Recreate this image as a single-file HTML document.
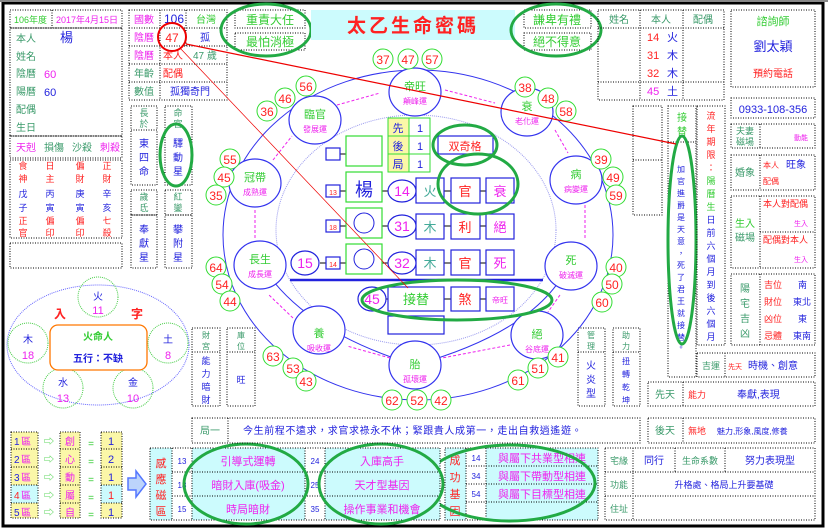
<!DOCTYPE html>
<html><head><meta charset="utf-8"><style>
html,body{margin:0;padding:0;background:#fff;width:828px;height:531px;overflow:hidden}
svg{display:block;font-family:"Liberation Sans","Noto Sans CJK TC","Noto Sans CJK SC",sans-serif}
.d{fill:none;stroke:#000;stroke-width:1;stroke-dasharray:1 1.5}
.g{fill:#3a9a6a}.r{fill:#f22}.b{fill:#22d}.m{fill:#e2e}.gr{fill:#3c3}
.c{text-anchor:middle}
</style></head><body>
<svg width="828" height="531" viewBox="0 0 828 531" font-size="10">
<rect x="0" y="0" width="828" height="531" fill="#fff"/>
<rect x="3" y="3" width="820" height="523" fill="none" stroke="#000" stroke-width="3"/>
<line x1="0" y1="1" x2="828" y2="1" stroke="#888" stroke-width="2"/>

<!-- LEFT TOP PANEL -->
<rect class="d" x="10" y="10" width="112" height="18"/><line class="d" x1="52" y1="10" x2="52" y2="28"/>
<text x="14" y="23" class="gr" font-size="9">106年度</text><text x="56" y="23" class="m" font-size="9">2017年4月15日</text>
<rect class="d" x="10" y="28" width="112" height="108"/>
<text x="16" y="42" class="g">本人</text><text x="60" y="42" class="b" font-size="13">楊</text>
<text x="16" y="60" class="g">姓名</text>
<text x="16" y="77" class="g">陰曆</text><text x="44" y="78" class="m" font-size="11">60</text>
<text x="16" y="95" class="g">陽曆</text><text x="44" y="96" class="b" font-size="11">60</text>
<text x="16" y="113" class="g">配偶</text>
<text x="16" y="131" class="g">生日</text>
<rect class="d" x="10" y="136" width="112" height="22"/>
<text x="16" y="151" class="m">天剋</text><text x="44" y="151" class="g">損傷</text><text x="72" y="151" class="g">沙殺</text><text x="100" y="151" class="m">刺殺</text>
<rect class="d" x="10" y="160" width="112" height="78"/>
<g class="c" font-size="9">
<text x="23" y="169" class="r">食</text><text x="50" y="169" class="r">日</text><text x="80" y="169" class="r">偏</text><text x="107" y="169" class="r">正</text>
<text x="23" y="182" class="r">神</text><text x="50" y="182" class="r">主</text><text x="80" y="182" class="r">財</text><text x="107" y="182" class="r">財</text>
<text x="23" y="197" class="b">戊</text><text x="50" y="197" class="b">丙</text><text x="80" y="197" class="b">庚</text><text x="107" y="197" class="b">辛</text>
<text x="23" y="211" class="b">子</text><text x="50" y="211" class="b">寅</text><text x="80" y="211" class="b">寅</text><text x="107" y="211" class="b">亥</text>
<text x="23" y="224" class="r">正</text><text x="50" y="224" class="r">偏</text><text x="80" y="224" class="r">偏</text><text x="107" y="224" class="r">七</text>
<text x="23" y="236" class="r">官</text><text x="50" y="236" class="r">印</text><text x="80" y="236" class="r">印</text><text x="107" y="236" class="r">殺</text>
</g>
<rect class="d" x="10" y="243" width="112" height="25"/>

<!-- MID-LEFT COLUMN -->
<rect class="d" x="129" y="10" width="98" height="90"/>
<line class="d" x1="160" y1="10" x2="160" y2="100"/><line class="d" x1="186" y1="10" x2="186" y2="46"/>
<line class="d" x1="129" y1="28" x2="227" y2="28"/><line class="d" x1="129" y1="46" x2="227" y2="46"/><line class="d" x1="129" y1="64" x2="227" y2="64"/><line class="d" x1="129" y1="82" x2="227" y2="82"/>
<text x="134" y="23" class="m">國數</text><text x="164" y="23" class="b" font-size="12">106</text><text x="196" y="23" class="gr">台灣</text>
<text x="134" y="41" class="m">陰曆</text><text x="172" y="42" class="r c" font-size="12">47</text><text x="200" y="41" class="b">孤</text>
<text x="134" y="59" class="m">陰曆</text><text x="163" y="59" class="r">本人</text><text x="193" y="59" class="g">47 歲</text>
<text x="134" y="77" class="g">年齡</text><text x="163" y="77" class="r">配偶</text>
<text x="134" y="95" class="g">數值</text><text x="170" y="95" class="b">孤獨奇門</text>
<circle cx="172" cy="37" r="14" fill="none" stroke="#e00" stroke-width="2"/>

<rect class="d" x="131" y="106" width="26" height="24"/><rect class="d" x="131" y="130" width="26" height="55"/>
<text x="144" y="116" class="g c" font-size="9">長</text><text x="144" y="127" class="g c" font-size="9">於</text>
<text x="144" y="147" class="b c">東</text><text x="144" y="161" class="b c">四</text><text x="144" y="175" class="b c">命</text>
<rect class="d" x="165" y="106" width="27" height="79"/>
<text x="178" y="116" class="g c" font-size="9">命</text><text x="178" y="127" class="g c" font-size="9">宮</text>
<text x="178" y="147" class="b c">驛</text><text x="178" y="161" class="b c">動</text><text x="178" y="175" class="b c">星</text>
<ellipse cx="176" cy="155" rx="16" ry="31" fill="none" stroke="#2a4" stroke-width="3"/>
<rect class="d" x="131" y="190" width="26" height="25"/><rect class="d" x="131" y="215" width="26" height="53"/>
<text x="144" y="200" class="g c" font-size="9">歲</text><text x="144" y="211" class="g c" font-size="9">氐</text>
<text x="144" y="233" class="b c">奉</text><text x="144" y="247" class="b c">獻</text><text x="144" y="261" class="b c">星</text>
<rect class="d" x="165" y="190" width="27" height="25"/><rect class="d" x="165" y="215" width="27" height="53"/>
<text x="178" y="200" class="g c" font-size="9">紅</text><text x="178" y="211" class="g c" font-size="9">鑾</text>
<text x="178" y="233" class="b c">攀</text><text x="178" y="247" class="b c">附</text><text x="178" y="261" class="b c">星</text>

<!-- TOP MIDDLE -->
<rect class="d" x="235" y="10" width="70" height="18"/><rect class="d" x="235" y="33" width="70" height="17"/>
<text x="270" y="24" class="gr c" font-size="12">重責大任</text><text x="270" y="46" class="gr c" font-size="12">最怕消極</text>
<ellipse cx="266" cy="30" rx="45" ry="26" fill="none" stroke="#2a4" stroke-width="3"/>
<rect x="311" y="10" width="204" height="30" fill="#ccfbfd"/>
<text x="413" y="32" class="r c" font-size="19" font-weight="bold" letter-spacing="3">太乙生命密碼</text>
<rect class="d" x="524" y="10" width="67" height="18"/><rect class="d" x="524" y="33" width="67" height="17"/>
<text x="557" y="24" class="gr c" font-size="12">謙卑有禮</text><text x="557" y="46" class="gr c" font-size="12">絕不得意</text>
<ellipse cx="556" cy="30" rx="45" ry="26" fill="none" stroke="#2a4" stroke-width="3"/>

<!-- RIGHT TABLE -->
<rect class="d" x="598" y="10" width="126" height="90"/>
<line class="d" x1="640" y1="10" x2="640" y2="100"/><line class="d" x1="683" y1="10" x2="683" y2="100"/>
<line class="d" x1="598" y1="28" x2="724" y2="28"/><line class="d" x1="598" y1="82" x2="724" y2="82"/>
<text x="619" y="23" class="g c">姓名</text><text x="661" y="23" class="g c">本人</text><text x="703" y="23" class="g c">配偶</text>
<g font-size="11"><text x="647" y="41" class="r">14</text><text x="667" y="41" class="b">火</text>
<text x="647" y="59" class="r">31</text><text x="667" y="59" class="b">木</text>
<text x="647" y="77" class="r">32</text><text x="667" y="77" class="b">木</text>
<text x="647" y="95" class="m">45</text><text x="667" y="95" class="b">土</text></g>
<rect class="d" x="731" y="10" width="84" height="77"/>
<text x="773" y="25" class="gr c" font-size="11">諮詢師</text><text x="773" y="51" class="b c" font-size="13">劉太穎</text><text x="773" y="77" class="r c">預約電話</text>
<rect class="d" x="731" y="98" width="84" height="20"/>
<text x="773" y="113" class="b c" font-size="11">0933-108-356</text>

<rect class="d" x="633" y="106" width="29" height="109"/><line class="d" x1="633" y1="160" x2="662" y2="160"/>
<rect class="d" x="668" y="106" width="28" height="271"/><line class="d" x1="668" y1="142" x2="696" y2="142"/>
<text x="682" y="121" class="gr c">接</text><text x="682" y="135" class="gr c">替</text>
<g class="b c" font-size="8"><text x="681" y="172">加</text><text x="681" y="184">官</text><text x="681" y="196">進</text><text x="681" y="208">爵</text><text x="681" y="220">是</text><text x="681" y="232">天</text><text x="681" y="244">意</text><text x="681" y="256">，</text><text x="681" y="268">死</text><text x="681" y="280">了</text><text x="681" y="292">君</text><text x="681" y="304">王</text><text x="681" y="316">就</text><text x="681" y="328">接</text><text x="681" y="340">替</text><text x="681" y="350">。</text></g>
<ellipse cx="682" cy="240" rx="14" ry="104" fill="none" stroke="#2a4" stroke-width="3"/>
<rect class="d" x="697" y="106" width="28" height="239"/>
<g class="c" font-size="9"><text x="711" y="119" class="r">流</text><text x="711" y="132" class="r">年</text><text x="711" y="145" class="r">期</text><text x="711" y="158" class="r">限</text><text x="711" y="171" class="r">：</text><text x="711" y="184" class="gr">陽</text><text x="711" y="197" class="gr">曆</text><text x="711" y="210" class="gr">生</text><text x="711" y="223" class="b">日</text><text x="711" y="236" class="b">前</text><text x="711" y="249" class="b">六</text><text x="711" y="262" class="b">個</text><text x="711" y="275" class="b">月</text><text x="711" y="288" class="b">到</text><text x="711" y="301" class="b">後</text><text x="711" y="314" class="b">六</text><text x="711" y="327" class="b">個</text><text x="711" y="340" class="b">月</text></g>
<rect class="d" x="731" y="124" width="84" height="24"/><line class="d" x1="760" y1="124" x2="760" y2="148"/>
<text x="745" y="134" class="g c" font-size="9">夫妻</text><text x="745" y="145" class="g c" font-size="9">磁場</text><text x="808" y="140" class="m" font-size="7" text-anchor="end">動能</text>
<rect class="d" x="731" y="155" width="84" height="35"/><line class="d" x1="760" y1="155" x2="760" y2="190"/>
<text x="745" y="176" class="g c">婚象</text><text x="763" y="168" class="r" font-size="8">本人</text><text x="786" y="168" class="b">旺象</text><text x="763" y="184" class="r" font-size="8">配偶</text>
<rect class="d" x="731" y="196" width="84" height="72"/><line class="d" x1="760" y1="196" x2="760" y2="268"/><line class="d" x1="760" y1="232" x2="815" y2="232"/>
<text x="745" y="227" class="gr c">生入</text><text x="745" y="241" class="g c">磁場</text>
<text x="763" y="207" class="r" font-size="9">本人對配偶</text><text x="808" y="226" class="m" font-size="7" text-anchor="end">生入</text>
<text x="763" y="243" class="r" font-size="9">配偶對本人</text><text x="808" y="262" class="m" font-size="7" text-anchor="end">生入</text>
<rect class="d" x="731" y="274" width="84" height="71"/><line class="d" x1="760" y1="274" x2="760" y2="345"/>
<g class="g c" font-size="10"><text x="745" y="292">陽</text><text x="745" y="307">宅</text><text x="745" y="322">吉</text><text x="745" y="337">凶</text></g>
<g font-size="9"><text x="764" y="288" class="r">吉位</text><text x="798" y="288" class="b">南</text>
<text x="764" y="305" class="r">財位</text><text x="793" y="305" class="b">東北</text>
<text x="764" y="322" class="r">凶位</text><text x="798" y="322" class="b">東</text>
<text x="764" y="339" class="r">忌體</text><text x="793" y="339" class="b">東南</text></g>
<rect class="d" x="697" y="353" width="118" height="24"/><line class="d" x1="725" y1="353" x2="725" y2="377"/>
<text x="711" y="369" class="g c" font-size="9">吉運</text><text x="728" y="369" class="r" font-size="7">先天</text><text x="748" y="369" class="b" font-size="10">時機、創意</text>
<rect class="d" x="648" y="382" width="167" height="24"/><line class="d" x1="683" y1="382" x2="683" y2="406"/>
<text x="665" y="398" class="g c">先天</text><text x="688" y="398" class="r" font-size="9">能力</text><text x="737" y="398" class="b">奉獻,表現</text>
<rect class="d" x="648" y="418" width="167" height="25"/><line class="d" x1="683" y1="418" x2="683" y2="443"/>
<text x="665" y="434" class="g c">後天</text><text x="688" y="434" class="r" font-size="9">無地</text><text x="717" y="434" class="b" font-size="8">魅力,形象,風度,修養</text>

<!-- BOTTOM RIGHT -->
<rect class="d" x="605" y="448" width="210" height="72"/>
<line class="d" x1="605" y1="472" x2="815" y2="472"/><line class="d" x1="605" y1="496" x2="815" y2="496"/>
<line class="d" x1="633" y1="448" x2="633" y2="520"/><line class="d" x1="675" y1="448" x2="675" y2="472"/><line class="d" x1="725" y1="448" x2="725" y2="472"/>
<text x="619" y="464" class="g c" font-size="9">宅緣</text><text x="654" y="464" class="b c">同行</text><text x="700" y="464" class="g c" font-size="9">生命系數</text><text x="770" y="464" class="b c">努力表現型</text>
<text x="619" y="488" class="g c" font-size="9">功能</text><text x="724" y="488" class="b c" font-size="9">升格處、格局上升要基礎</text>
<text x="619" y="512" class="g c" font-size="9">住址</text>

<!-- 成功基因 -->
<rect x="445" y="448" width="21" height="72" fill="#ccfbfd"/><rect x="486" y="448" width="112" height="72" fill="#ccfbfd"/>
<rect class="d" x="445" y="448" width="153" height="72"/>
<line class="d" x1="466" y1="448" x2="466" y2="520"/><line class="d" x1="486" y1="448" x2="486" y2="520"/>
<line class="d" x1="466" y1="466" x2="598" y2="466"/><line class="d" x1="466" y1="484" x2="598" y2="484"/><line class="d" x1="466" y1="502" x2="598" y2="502"/>
<g class="r c" font-size="11"><text x="455" y="464">成</text><text x="455" y="481">功</text><text x="455" y="498">基</text><text x="455" y="515">因</text></g>
<g class="b c" font-size="8"><text x="476" y="461">14</text><text x="476" y="479">34</text><text x="476" y="497">54</text></g>
<g class="m c" font-size="11"><text x="542" y="462">與屬下共業型相連</text><text x="542" y="480">與屬下帶動型相連</text><text x="542" y="498">與屬下目標型相連</text></g>
<ellipse cx="510" cy="483" rx="85" ry="38" fill="none" stroke="#2a4" stroke-width="3"/>

<!-- 感應磁區 -->
<rect x="150" y="448" width="22" height="72" fill="#ccfbfd"/><rect x="192" y="448" width="113" height="72" fill="#ccfbfd"/><rect x="325" y="448" width="115" height="72" fill="#ccfbfd"/>
<rect class="d" x="150" y="448" width="290" height="72"/>
<line class="d" x1="172" y1="448" x2="172" y2="520"/><line class="d" x1="192" y1="448" x2="192" y2="520"/><line class="d" x1="305" y1="448" x2="305" y2="520"/><line class="d" x1="325" y1="448" x2="325" y2="520"/>
<line class="d" x1="172" y1="472" x2="440" y2="472"/><line class="d" x1="172" y1="496" x2="440" y2="496"/>
<g class="r c" font-size="11"><text x="161" y="467">感</text><text x="161" y="483">應</text><text x="161" y="499">磁</text><text x="161" y="515">區</text></g>
<g class="b c" font-size="8"><text x="182" y="464">13</text><text x="182" y="488">18</text><text x="182" y="512">15</text><text x="315" y="464">24</text><text x="315" y="488">25</text><text x="315" y="512">35</text></g>
<g class="m c" font-size="11"><text x="248" y="465">引導式運轉</text><text x="248" y="489">暗財入庫(吸金)</text><text x="248" y="513">時局暗財</text>
<text x="382" y="465">入庫高手</text><text x="382" y="489">天才型基因</text><text x="382" y="513">操作事業和機會</text></g>
<ellipse cx="246" cy="484" rx="62" ry="40" fill="none" stroke="#2a4" stroke-width="3"/>
<ellipse cx="381" cy="484" rx="62" ry="40" fill="none" stroke="#2a4" stroke-width="3"/>
<path d="M128 478h8v-7l10 13-10 13v-7h-8z" fill="#bcd4fb" stroke="#57f" stroke-width="1.5"/>

<!-- 1區 table -->
<g>
<rect x="11" y="432" width="27" height="86" fill="#fbf7a8"/><rect x="60" y="432" width="20" height="86" fill="#fbf7a8"/><rect x="101" y="432" width="21" height="86" fill="#fbf7a8"/>
<rect x="11" y="485" width="27" height="18" fill="#ccfbfd"/><rect x="101" y="485" width="21" height="18" fill="#ccfbfd"/>
<rect class="d" x="11" y="432" width="27" height="86"/><rect class="d" x="60" y="432" width="20" height="86"/><rect class="d" x="101" y="432" width="21" height="86"/>
<line class="d" x1="11" y1="449" x2="38" y2="449"/><line class="d" x1="11" y1="467" x2="38" y2="467"/><line class="d" x1="11" y1="485" x2="38" y2="485"/><line class="d" x1="11" y1="503" x2="38" y2="503"/>
<line class="d" x1="60" y1="449" x2="80" y2="449"/><line class="d" x1="60" y1="467" x2="80" y2="467"/><line class="d" x1="60" y1="485" x2="80" y2="485"/><line class="d" x1="60" y1="503" x2="80" y2="503"/>
<line class="d" x1="101" y1="449" x2="122" y2="449"/><line class="d" x1="101" y1="467" x2="122" y2="467"/><line class="d" x1="101" y1="485" x2="122" y2="485"/><line class="d" x1="101" y1="503" x2="122" y2="503"/>
<g font-size="10"><text x="14" y="445" class="b">1</text><text x="21" y="445" class="m">區</text><text x="14" y="463" class="b">2</text><text x="21" y="463" class="m">區</text><text x="14" y="481" class="b">3</text><text x="21" y="481" class="m">區</text><text x="14" y="499" class="r">4</text><text x="21" y="499" class="m">區</text><text x="14" y="516" class="b">5</text><text x="21" y="516" class="m">區</text></g>
<g class="gr c" font-size="10"><text x="49" y="445">⇨</text><text x="49" y="463">⇨</text><text x="49" y="481">⇨</text><text x="49" y="499">⇨</text><text x="49" y="516">⇨</text>
<text x="91" y="447">=</text><text x="91" y="465">=</text><text x="91" y="483">=</text><text x="91" y="501">=</text><text x="91" y="518">=</text></g>
<g class="m c" font-size="10"><text x="70" y="445">創</text><text x="70" y="463">心</text><text x="70" y="481">動</text><text x="70" y="499">屬</text><text x="70" y="516">自</text></g>
<g class="c" font-size="11"><text x="111" y="445" class="b">1</text><text x="111" y="463" class="b">2</text><text x="111" y="481" class="b">1</text><text x="111" y="499" class="r">1</text><text x="111" y="516" class="b">1</text></g>
</g>

<!-- 八字 -->
<ellipse cx="98" cy="345" rx="91" ry="60" fill="none" stroke="#66f" stroke-dasharray="1 1"/>
<text x="60" y="318" class="r c" font-size="12" font-weight="bold">入</text><text x="137" y="318" class="r c" font-size="12" font-weight="bold">字</text>
<g fill="none" stroke="#4c4" stroke-dasharray="1 1"><circle cx="98" cy="297" r="20"/><circle cx="28" cy="343" r="20"/><circle cx="168" cy="343" r="20"/><circle cx="63" cy="388" r="20"/><circle cx="133" cy="388" r="20"/></g>
<g class="c" font-size="10"><text x="98" y="300" class="b">火</text><text x="98" y="314" class="m" font-size="11">11</text>
<text x="28" y="343" class="b">木</text><text x="28" y="359" class="m" font-size="11">18</text>
<text x="168" y="343" class="b">土</text><text x="168" y="359" class="m" font-size="11">8</text>
<text x="63" y="386" class="b">水</text><text x="63" y="402" class="m" font-size="11">13</text>
<text x="133" y="386" class="b">金</text><text x="133" y="402" class="m" font-size="11">10</text></g>
<rect x="50" y="325" width="97" height="45" rx="8" fill="#fff" stroke="#f70" stroke-width="1.3"/>
<text x="98" y="340" class="gr c" font-size="10" font-weight="bold">火命人</text>
<text x="98" y="362" class="b c" font-size="10" font-weight="bold">五行：不缺</text>

<!-- 財宮 etc -->
<rect class="d" x="192" y="328" width="28" height="78"/><line class="d" x1="192" y1="352" x2="220" y2="352"/>
<text x="206" y="338" class="g c" font-size="8">財</text><text x="206" y="349" class="g c" font-size="8">宮</text>
<g class="b c" font-size="9"><text x="206" y="364">能</text><text x="206" y="377">力</text><text x="206" y="390">暗</text><text x="206" y="403">財</text></g>
<rect class="d" x="227" y="328" width="28" height="78"/><line class="d" x1="227" y1="352" x2="255" y2="352"/>
<text x="241" y="338" class="g c" font-size="8">庫</text><text x="241" y="349" class="g c" font-size="8">位</text><text x="241" y="383" class="b c" font-size="9">旺</text>
<rect class="d" x="578" y="328" width="27" height="78"/><line class="d" x1="578" y1="352" x2="605" y2="352"/>
<text x="591" y="338" class="g c" font-size="8">管</text><text x="591" y="349" class="g c" font-size="8">理</text>
<g class="b c" font-size="10"><text x="591" y="369">火</text><text x="591" y="383">炎</text><text x="591" y="397">型</text></g>
<rect class="d" x="613" y="328" width="27" height="78"/><line class="d" x1="613" y1="352" x2="640" y2="352"/>
<text x="626" y="338" class="g c" font-size="8">助</text><text x="626" y="349" class="g c" font-size="8">力</text>
<g class="b c" font-size="8"><text x="626" y="364">扭</text><text x="626" y="377">轉</text><text x="626" y="390">乾</text><text x="626" y="403">坤</text></g>
<rect class="d" x="192" y="418" width="448" height="25"/><line class="d" x1="228" y1="418" x2="228" y2="443"/>
<text x="210" y="434" class="g c" font-size="10">局一</text>
<text x="243" y="434" class="b" font-size="10" letter-spacing="0.6">今生前程不遠求，求官求祿永不休；緊跟貴人成第一，走出自救逍遙遊。</text>

<!-- CENTER DIAGRAM -->
<ellipse cx="418" cy="235" rx="195" ry="165" fill="none" stroke="#33e" stroke-width="1"/>
<ellipse cx="416" cy="230" rx="140" ry="115" fill="none" stroke="#99e" stroke-dasharray="1 1"/>
<path d="M260 262 Q300 330 415 365" fill="none" stroke="#33e"/>
<path d="M570 262 Q540 330 415 365" fill="none" stroke="#33e"/>
<g fill="#fff" stroke="#33e" stroke-width="1.2">
<ellipse cx="415" cy="92" rx="26" ry="24"/><ellipse cx="315" cy="120" rx="26" ry="24"/><ellipse cx="527" cy="112" rx="26" ry="24"/>
<ellipse cx="255" cy="183" rx="26" ry="24"/><ellipse cx="576" cy="180" rx="26" ry="24"/>
<ellipse cx="260" cy="265" rx="26" ry="24"/><ellipse cx="571" cy="266" rx="26" ry="24"/>
<ellipse cx="319" cy="330" rx="26" ry="24"/><ellipse cx="537" cy="335" rx="26" ry="24"/><ellipse cx="415" cy="365" rx="26" ry="24"/>
</g>
<g class="c" font-size="11">
<text x="415" y="90" class="gr">帝旺</text><text x="415" y="104" class="m" font-size="8">顛峰運</text>
<text x="315" y="118" class="gr">臨官</text><text x="315" y="132" class="m" font-size="8">發展運</text>
<text x="527" y="110" class="gr">衰</text><text x="527" y="124" class="m" font-size="8">老化運</text>
<text x="255" y="181" class="gr">冠帶</text><text x="255" y="195" class="m" font-size="8">成熟運</text>
<text x="576" y="178" class="gr">病</text><text x="576" y="192" class="m" font-size="8">病變運</text>
<text x="260" y="263" class="gr">長生</text><text x="260" y="277" class="m" font-size="8">成長運</text>
<text x="571" y="264" class="gr">死</text><text x="571" y="278" class="m" font-size="8">破滅運</text>
<text x="319" y="337" class="gr">養</text><text x="319" y="351" class="m" font-size="8">吸收運</text>
<text x="537" y="338" class="gr">絕</text><text x="537" y="352" class="m" font-size="8">谷底運</text>
<text x="415" y="368" class="gr">胎</text><text x="415" y="382" class="m" font-size="8">孤壞運</text>
</g>
<g fill="none" stroke="#e2e" stroke-dasharray="3 2">
<path d="M337 105 L380 93"/><path d="M445 90 L495 103"/><path d="M273 160 L292 136"/><path d="M555 130 L568 153"/>
<path d="M255 238 L255 210"/><path d="M585 205 L585 238"/><path d="M293 318 L269 295"/><path d="M560 295 L548 312"/>
<path d="M390 358 L347 346"/><path d="M510 345 L442 358"/>
</g>
<!-- green number circles -->
<g fill="#fff" stroke="#3d3">
<circle cx="383" cy="59" r="10"/><circle cx="408" cy="59" r="10"/><circle cx="432" cy="59" r="10"/>
<circle cx="267" cy="111" r="10"/><circle cx="285" cy="98" r="10"/><circle cx="306" cy="86" r="10"/>
<circle cx="525" cy="87" r="10"/><circle cx="548" cy="98" r="10"/><circle cx="566" cy="111" r="10"/>
<circle cx="230" cy="159" r="10"/><circle cx="224" cy="177" r="10"/><circle cx="216" cy="195" r="10"/>
<circle cx="601" cy="159" r="10"/><circle cx="613" cy="177" r="10"/><circle cx="616" cy="195" r="10"/>
<circle cx="216" cy="267" r="10"/><circle cx="222" cy="284" r="10"/><circle cx="230" cy="301" r="10"/>
<circle cx="616" cy="267" r="10"/><circle cx="612" cy="284" r="10"/><circle cx="602" cy="302" r="10"/>
<circle cx="273" cy="356" r="10"/><circle cx="293" cy="368" r="10"/><circle cx="306" cy="381" r="10"/>
<circle cx="558" cy="357" r="10"/><circle cx="538" cy="368" r="10"/><circle cx="518" cy="380" r="10"/>
<circle cx="392" cy="400" r="10"/><circle cx="417" cy="400" r="10"/><circle cx="441" cy="400" r="10"/>
</g>
<g class="r c" font-size="12">
<text x="383" y="64">37</text><text x="408" y="64">47</text><text x="432" y="64">57</text>
<text x="267" y="116">36</text><text x="285" y="103">46</text><text x="306" y="91">56</text>
<text x="525" y="92">38</text><text x="548" y="103">48</text><text x="566" y="116">58</text>
<text x="230" y="164">55</text><text x="224" y="182">45</text><text x="216" y="200">35</text>
<text x="601" y="164">39</text><text x="613" y="182">49</text><text x="616" y="200">59</text>
<text x="216" y="272">64</text><text x="222" y="289">54</text><text x="230" y="306">44</text>
<text x="616" y="272">40</text><text x="612" y="289">50</text><text x="602" y="307">60</text>
<text x="273" y="361">63</text><text x="293" y="373">53</text><text x="306" y="386">43</text>
<text x="558" y="362">41</text><text x="538" y="373">51</text><text x="518" y="385">61</text>
<text x="392" y="405">62</text><text x="417" y="405">52</text><text x="441" y="405">42</text>
</g>

<!-- center grid -->
<rect x="388" y="118" width="21" height="54" fill="#fbf7a8"/>
<rect x="388" y="118" width="42" height="54" fill="none" stroke="#3d3"/>
<line x1="409" y1="118" x2="409" y2="172" stroke="#3d3"/><line x1="388" y1="136" x2="430" y2="136" stroke="#3d3"/><line x1="388" y1="154" x2="430" y2="154" stroke="#3d3"/>
<g class="c" font-size="11"><text x="398" y="132" class="b">先</text><text x="398" y="150" class="b">後</text><text x="398" y="168" class="b">局</text>
<text x="420" y="132" class="b">1</text><text x="420" y="150" class="b">1</text><text x="420" y="168" class="b">1</text></g>
<rect x="438" y="136" width="55" height="18" fill="#fff" stroke="#22d" stroke-width="1.2"/>
<text x="465" y="150" class="r c" font-size="11">双奇格</text>
<ellipse cx="465" cy="145" rx="32" ry="20" fill="none" stroke="#2a4" stroke-width="3"/>

<g stroke="#000"><line x1="340" y1="154" x2="346" y2="154"/><line x1="340" y1="191" x2="346" y2="191"/><line x1="382" y1="191" x2="390" y2="191"/><line x1="414" y1="191" x2="416" y2="191"/>
<line x1="444" y1="191" x2="451" y2="191"/><line x1="480" y1="191" x2="486" y2="191"/>
<line x1="340" y1="226" x2="346" y2="226"/><line x1="382" y1="226" x2="390" y2="226"/><line x1="444" y1="226" x2="451" y2="226"/><line x1="480" y1="226" x2="486" y2="226"/>
<line x1="320" y1="263" x2="326" y2="263"/><line x1="340" y1="263" x2="346" y2="263"/><line x1="382" y1="263" x2="390" y2="263"/><line x1="444" y1="263" x2="451" y2="263"/><line x1="480" y1="263" x2="486" y2="263"/>
<line x1="385" y1="299" x2="388" y2="299"/><line x1="444" y1="299" x2="451" y2="299"/><line x1="480" y1="299" x2="486" y2="299"/></g>
<g fill="#fff" stroke="#22d" stroke-width="1.2">
<rect x="326" y="148" width="14" height="12"/><rect x="326" y="185" width="14" height="12"/><rect x="326" y="220" width="14" height="12"/><rect x="326" y="257" width="14" height="12"/>
<rect x="416" y="178" width="28" height="25"/><rect x="451" y="178" width="29" height="25"/><rect x="486" y="178" width="28" height="25"/>
<rect x="416" y="214" width="28" height="25"/><rect x="451" y="214" width="29" height="25"/><rect x="486" y="214" width="28" height="25"/>
<rect x="416" y="250" width="28" height="25"/><rect x="451" y="250" width="29" height="25"/><rect x="486" y="250" width="28" height="25"/>
<rect x="388" y="287" width="56" height="24"/><rect x="451" y="287" width="29" height="24"/><rect x="486" y="287" width="28" height="24"/>
<rect x="388" y="316" width="56" height="18"/>
<ellipse cx="402" cy="191" rx="14" ry="11"/><ellipse cx="402" cy="226" rx="14" ry="11"/><ellipse cx="402" cy="263" rx="14" ry="11"/>
<ellipse cx="305" cy="263" rx="14" ry="12"/><ellipse cx="372" cy="299" rx="14" ry="12"/>
</g>
<g fill="#fff" stroke="#3d3" stroke-width="1.2">
<rect x="346" y="136" width="36" height="30"/><rect x="346" y="172" width="36" height="30"/><rect x="346" y="208" width="36" height="30"/><rect x="346" y="244" width="36" height="30"/>
</g>
<circle cx="364" cy="223" r="10" fill="none" stroke="#22d"/><circle cx="364" cy="259" r="10" fill="none" stroke="#22d"/>
<g class="c">
<text x="364" y="196" class="b" font-size="18">楊</text>
<text x="333" y="195" class="r" font-size="7">13</text><text x="333" y="230" class="r" font-size="7">18</text><text x="333" y="267" class="r" font-size="7">14</text>
<text x="402" y="196" class="m" font-size="14">14</text><text x="402" y="231" class="m" font-size="14">31</text><text x="402" y="268" class="m" font-size="14">32</text>
<text x="305" y="268" class="m" font-size="14">15</text><text x="372" y="304" class="m" font-size="14">45</text>
<text x="430" y="196" font-size="13" fill="#4a9">火</text><text x="465" y="196" class="r" font-size="13">官</text><text x="500" y="196" class="m" font-size="13">衰</text>
<text x="430" y="232" font-size="13" fill="#4a9">木</text><text x="465" y="232" class="r" font-size="13">利</text><text x="500" y="232" class="m" font-size="13">絕</text>
<text x="430" y="268" font-size="13" fill="#4a9">木</text><text x="465" y="268" class="r" font-size="13">官</text><text x="500" y="268" class="m" font-size="13">死</text>
<text x="416" y="304" class="gr" font-size="13">接替</text><text x="465" y="304" class="r" font-size="13">煞</text><text x="500" y="303" class="m" font-size="8">帝旺</text>
</g>
<line x1="290" y1="280" x2="543" y2="280" stroke="#22d" stroke-width="2.5"/>
<ellipse cx="478" cy="184" rx="40" ry="30" fill="none" stroke="#2a4" stroke-width="3"/>
<ellipse cx="457" cy="300" rx="95" ry="20" fill="none" stroke="#2a4" stroke-width="3"/>

<!-- red lines -->
<line x1="186" y1="44" x2="676" y2="144" stroke="#e00" stroke-width="1.2"/>
<line x1="180" y1="48" x2="408" y2="288" stroke="#e00" stroke-width="0.7"/>
</svg>
</body></html>
